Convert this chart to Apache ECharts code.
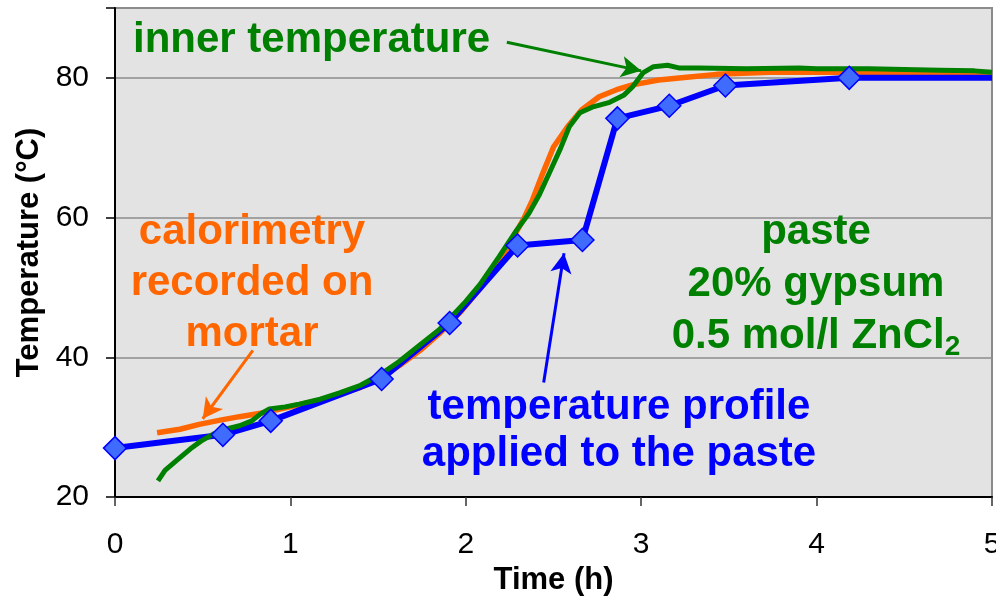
<!DOCTYPE html>
<html><head><meta charset="utf-8">
<script src="https://cdn.jsdelivr.net/npm/echarts@6/dist/echarts.min.js"></script>
<style>html,body{margin:0;padding:0;background:#fff}#c{width:996px;height:599px}</style>
</head><body><div id="c"></div>
<script>
// ---- data ----
const xTickLabels = [0, 1, 2, 3, 4, 5];
const yTickLabels = [20, 40, 60, 80];

// temperature profile applied to the paste (diamond markers)
const profileX = [0, 0.615, 0.888, 1.52, 1.908, 2.295, 2.665, 2.864, 3.16, 3.48, 4.186];
const profileY = [27, 28.9, 30.9, 36.9, 44.9, 56.0, 56.8, 74.2, 76.0, 78.9, 80.0];
const profileEndX = 5.0;
const profileEndY = 80.0;

// inner temperature (green)
const innerX = [0.245, 0.285, 0.35, 0.43, 0.49, 0.56, 0.63, 0.71, 0.78, 0.83, 0.88, 0.97, 1.05, 1.17, 1.28, 1.40, 1.51, 1.62, 1.74, 1.85, 1.91, 2.00, 2.08, 2.19, 2.29, 2.36, 2.42, 2.48, 2.54, 2.59, 2.65, 2.72, 2.82, 2.90, 2.95, 3.01, 3.07, 3.15, 3.22, 3.33, 3.60, 3.90, 4.00, 4.30, 4.50, 4.70, 4.90, 5.00];
const innerY = [22.3, 23.8, 25.2, 26.9, 28.0, 29.0, 29.7, 30.2, 30.9, 31.9, 32.6, 32.9, 33.3, 34.0, 34.9, 36.0, 37.5, 39.4, 41.8, 44.0, 45.6, 48.0, 50.4, 54.4, 58.2, 60.6, 63.3, 66.6, 69.9, 73.0, 75.0, 75.8, 76.5, 77.5, 78.7, 80.7, 81.6, 81.8, 81.4, 81.4, 81.3, 81.4, 81.3, 81.3, 81.2, 81.1, 81.0, 80.8];

// calorimetry recorded on mortar (orange)
const caloX = [0.24, 0.37, 0.48, 0.60, 0.71, 0.83, 0.94, 1.05, 1.17, 1.28, 1.40, 1.51, 1.62, 1.74, 1.85, 1.97, 2.08, 2.19, 2.28, 2.33, 2.38, 2.44, 2.50, 2.58, 2.66, 2.76, 2.86, 2.95, 3.10, 3.26, 3.43, 3.73, 4.19, 4.47, 4.82, 5.00];
const caloY = [29.2, 29.7, 30.4, 31.0, 31.5, 32.0, 32.6, 33.2, 33.9, 34.7, 35.7, 37.0, 38.8, 41.0, 43.4, 46.5, 49.8, 53.6, 57.6, 59.8, 62.5, 66.4, 70.1, 73.0, 75.4, 77.3, 78.3, 79.0, 79.7, 80.1, 80.5, 80.8, 80.8, 80.8, 80.7, 80.5];

// annotation arrows (data coordinates: start, tip)
const arrowInner = [[2.234, 85.1], [3.0, 81.0]];
const arrowCalo = [[0.786, 41.0], [0.50, 31.2]];
const arrowProfile = [[2.444, 36.4], [2.56, 54.9]];

// ---- chart ----
const FONT = '"Liberation Sans", Arial, sans-serif';
const zip = (xs, ys) => xs.map((x, i) => [x, ys[i]]);
const profileLine = zip(profileX, profileY).concat([[profileEndX, profileEndY]]);

const chart = echarts.init(document.getElementById('c'), null, {renderer: 'canvas'});
const arrowML = (pts, color) => ({
  silent: true, animation: false,
  symbol: ['none', 'arrow'], symbolSize: [16, 20],
  label: {show: false},
  lineStyle: {color: color, width: 3, type: 'solid'},
  emphasis: {disabled: true},
  data: [[{coord: pts[0]}, {coord: pts[1]}]]
});

chart.setOption({
  animation: false,
  backgroundColor: '#ffffff',
  grid: {left: 115, right: 4, top: 8, bottom: 102, show: true, outerBoundsMode: 'none', containLabel: false,
    backgroundColor: '#E3E3E3', borderColor: '#8A8A8A', borderWidth: 2},
  xAxis: {
    type: 'value', min: 0, max: 5, interval: 1,
    name: 'Time (h)', nameLocation: 'middle', nameGap: 68,
    nameTextStyle: {fontFamily: FONT, fontWeight: 'bold', fontSize: 31, color: '#000'},
    axisLine: {show: true, onZero: false, lineStyle: {color: '#000', width: 2}},
    axisTick: {show: true, inside: false, length: 9, lineStyle: {color: '#333', width: 1.5}},
    axisLabel: {fontFamily: FONT, fontSize: 30, color: '#000', margin: 33,
      formatter: v => xTickLabels.includes(v) ? String(v) : ''},
    splitLine: {show: false}
  },
  yAxis: {
    type: 'value', min: 20, max: 90, interval: 20,
    name: 'Temperature (°C)', nameLocation: 'middle', nameGap: 68, nameRotate: 90,
    nameTextStyle: {fontFamily: FONT, fontWeight: 'bold', fontSize: 31, color: '#000'},
    axisLine: {show: true, onZero: false, lineStyle: {color: '#000', width: 2}},
    axisTick: {show: true, inside: false, length: 9, lineStyle: {color: '#000', width: 1.5}},
    axisLabel: {fontFamily: FONT, fontSize: 30, color: '#000', margin: 26,
      formatter: v => yTickLabels.includes(v) ? String(v) : ''},
    splitLine: {show: true, lineStyle: {color: '#8C8C8C', width: 1.5}}
  },
  series: [
    {name: 'calorimetry', type: 'line', z: 2, data: zip(caloX, caloY), showSymbol: false, symbol: 'none',
      lineStyle: {color: '#FF6600', width: 5.5}, itemStyle: {color: '#FF6600'},
      markLine: arrowML(arrowCalo, '#FF6600')},
    {name: 'profile', type: 'line', z: 3, data: profileLine, showSymbol: false, symbol: 'none',
      lineStyle: {color: '#0000FF', width: 6}, itemStyle: {color: '#0000FF'},
      markLine: arrowML(arrowProfile, '#0000FF')},
    {name: 'inner', type: 'line', z: 4, data: zip(innerX, innerY), showSymbol: false, symbol: 'none',
      lineStyle: {color: '#008000', width: 5}, itemStyle: {color: '#008000'},
      markLine: arrowML(arrowInner, '#008000')},
    {name: 'profileMarkers', type: 'scatter', z: 5, data: zip(profileX, profileY),
      symbol: 'diamond', symbolSize: [23, 23],
      itemStyle: {color: '#3F6CFF', borderColor: '#0000FF', borderWidth: 1.5, opacity: 1}}
  ],
  graphic: [
    {type: 'text', z: 100, style: {text: 'inner temperature', x: 133, y: 40, verticalAlign: 'middle', align: 'left',
      font: 'bold 42px ' + FONT, fill: '#008000'}},
    {type: 'text', z: 100, style: {text: 'calorimetry\nrecorded on\nmortar', x: 252, y: 283, verticalAlign: 'middle', align: 'center',
      font: 'bold 42px ' + FONT, lineHeight: 51, fill: '#FF6600'}},
    {type: 'text', z: 100, style: {text: 'temperature profile\napplied to the paste', x: 619, y: 431, verticalAlign: 'middle', align: 'center',
      font: 'bold 42px ' + FONT, lineHeight: 47, fill: '#0000FF'}},
    {type: 'text', z: 100, style: {
      text: '{g|paste}\n{g|20% gypsum}\n{g|0.5 mol/l ZnCl}{s|2}', x: 816, y: 284, verticalAlign: 'middle', align: 'center',
      rich: {
        g: {fontFamily: FONT, fontWeight: 'bold', fontSize: 42, lineHeight: 52, fill: '#008000', color: '#008000'},
        s: {fontFamily: FONT, fontWeight: 'bold', fontSize: 28, lineHeight: 52, fill: '#008000', color: '#008000', padding: [22, 0, 0, 0]}
      }}}
  ]
});
</script>
</body></html>
